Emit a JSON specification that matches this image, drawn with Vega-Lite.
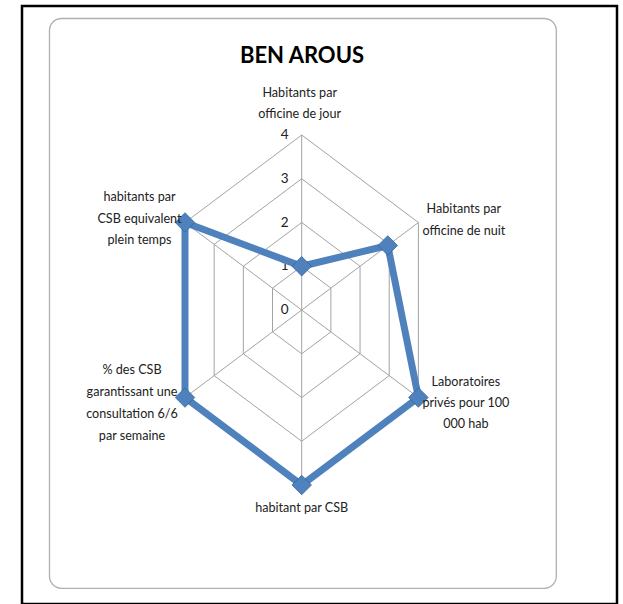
{
  "$schema": "https://vega.github.io/schema/vega-lite/v6.json",
  "width": 595,
  "height": 598,
  "autosize": {"type": "none"},
  "padding": {"left": 22, "top": 6, "right": 6, "bottom": 0},
  "background": "white",
  "title": {"text": "BEN AROUS", "anchor": "middle", "frame": "group", "dx": -17.5, "offset": -79, "baseline": "alphabetic", "font": "Lato", "fontSize": 22, "fontWeight": "bold", "color": "black"},
  "config": {"view": {"stroke": "black", "strokeWidth": 2.5}, "font": "Lato"},
  "datasets": {
    "axes": [
      {"idx": 0, "axis": "Habitants par\nofficine de jour", "value": 1},
      {"idx": 1, "axis": "Habitants par\nofficine de nuit", "value": 2.95},
      {"idx": 2, "axis": "Laboratoires\nprivés pour 100\n000 hab", "value": 4},
      {"idx": 3, "axis": "habitant par CSB", "value": 4},
      {"idx": 4, "axis": "% des CSB\ngarantissant une\nconsultation 6/6\npar semaine", "value": 4},
      {"idx": 5, "axis": "habitants par\nCSB equivalent\nplein temps", "value": 4}
    ],
    "rings": [
      {"level": 1, "idx": [0, 1, 2, 3, 4, 5]},
      {"level": 2, "idx": [0, 1, 2, 3, 4, 5]},
      {"level": 3, "idx": [0, 1, 2, 3, 4, 5]},
      {"level": 4, "idx": [0, 1, 2, 3, 4, 5]}
    ],
    "ticks": [{"level": 0}, {"level": 1}, {"level": 2}, {"level": 3}, {"level": 4}]
  },
  "layer": [
    {
      "data": {"name": "rings"},
      "transform": [
        {"flatten": ["idx"]},
        {"calculate": "datum.level*sin(datum.idx*PI/3)", "as": "x"},
        {"calculate": "datum.level*cos(datum.idx*PI/3)", "as": "y"}
      ],
      "mark": {"type": "line", "interpolate": "linear-closed", "color": "#a3a3a3", "strokeWidth": 1},
      "encoding": {
        "x": {"field": "x", "type": "quantitative", "scale": {"domain": [-8.302, 9.359], "nice": false, "zero": false}, "axis": null},
        "y": {"field": "y", "type": "quantitative", "scale": {"domain": [-6.72, 6.949], "nice": false, "zero": false}, "axis": null},
        "detail": {"field": "level", "type": "nominal"},
        "order": {"field": "idx", "type": "quantitative"}
      }
    },
    {
      "data": {"values": [{"frame": "chart area"}]},
      "mark": {"type": "rect", "filled": false, "stroke": "#b0b0b0", "strokeWidth": 1.3, "cornerRadius": 12},
      "encoding": {
        "x": {"datum": -7.486, "type": "quantitative", "scale": {"domain": [-8.302, 9.359], "nice": false, "zero": false}, "axis": null},
        "x2": {"datum": 7.557},
        "y": {"datum": 6.663, "type": "quantitative", "scale": {"domain": [-6.72, 6.949], "nice": false, "zero": false}, "axis": null},
        "y2": {"datum": -6.361}
      }
    },
    {
      "data": {"name": "axes"},
      "transform": [
        {"calculate": "4*sin(datum.idx*PI/3)", "as": "x"},
        {"calculate": "4*cos(datum.idx*PI/3)", "as": "y"}
      ],
      "mark": {"type": "rule", "color": "#a3a3a3", "strokeWidth": 1},
      "encoding": {
        "x": {"field": "x", "type": "quantitative", "scale": {"domain": [-8.302, 9.359], "nice": false, "zero": false}, "axis": null},
        "y": {"field": "y", "type": "quantitative", "scale": {"domain": [-6.72, 6.949], "nice": false, "zero": false}, "axis": null},
        "x2": {"datum": 0},
        "y2": {"datum": 0}
      }
    },
    {
      "data": {"name": "ticks"},
      "mark": {"type": "text", "align": "center", "baseline": "middle", "dx": -17, "fontSize": 13.5, "color": "#222222"},
      "encoding": {
        "x": {"datum": 0, "type": "quantitative", "scale": {"domain": [-8.302, 9.359], "nice": false, "zero": false}, "axis": null},
        "y": {"field": "level", "type": "quantitative", "scale": {"domain": [-6.72, 6.949], "nice": false, "zero": false}, "axis": null},
        "text": {"field": "level", "type": "quantitative"}
      }
    },
    {
      "data": {"name": "axes"},
      "transform": [
        {"calculate": "datum.value*sin(datum.idx*PI/3)", "as": "x"},
        {"calculate": "datum.value*cos(datum.idx*PI/3)", "as": "y"}
      ],
      "encoding": {
        "x": {"field": "x", "type": "quantitative", "scale": {"domain": [-8.302, 9.359], "nice": false, "zero": false}, "axis": null},
        "y": {"field": "y", "type": "quantitative", "scale": {"domain": [-6.72, 6.949], "nice": false, "zero": false}, "axis": null}
      },
      "layer": [
        {
          "mark": {"type": "line", "interpolate": "linear-closed", "color": "#4F81BD", "strokeWidth": 7},
          "encoding": {"order": {"field": "idx", "type": "quantitative"}}
        },
        {
          "mark": {"type": "point", "shape": "diamond", "size": 380, "filled": true, "color": "#4F81BD", "stroke": "#3465a0", "strokeWidth": 0.8, "opacity": 1},
          "encoding": {}
        }
      ]
    },
    {
      "data": {"name": "axes"},
      "transform": [
        {"calculate": "4*sin(datum.idx*PI/3)", "as": "x"},
        {"calculate": "4*cos(datum.idx*PI/3)", "as": "y"}
      ],
      "encoding": {
        "x": {"field": "x", "type": "quantitative", "scale": {"domain": [-8.302, 9.359], "nice": false, "zero": false}, "axis": null},
        "y": {"field": "y", "type": "quantitative", "scale": {"domain": [-6.72, 6.949], "nice": false, "zero": false}, "axis": null},
        "text": {"field": "axis"}
      },
      "layer": [
        {"transform": [{"filter": "datum.idx == 0"}], "mark": {"type": "text", "align": "center", "baseline": "middle", "lineBreak": "\n", "lineHeight": 21, "fontSize": 12.6, "color": "#222222", "dx": -2, "dy": -42}},
        {"transform": [{"filter": "datum.idx == 1"}], "mark": {"type": "text", "align": "center", "baseline": "middle", "lineBreak": "\n", "lineHeight": 22, "fontSize": 12.6, "color": "#222222", "dx": 45.5, "dy": -13.5}},
        {"transform": [{"filter": "datum.idx == 2"}], "mark": {"type": "text", "align": "center", "baseline": "middle", "lineBreak": "\n", "lineHeight": 21, "fontSize": 12.6, "color": "#222222", "dx": 47.5, "dy": -15.5}},
        {"transform": [{"filter": "datum.idx == 3"}], "mark": {"type": "text", "align": "center", "baseline": "middle", "lineBreak": "\n", "lineHeight": 21, "fontSize": 12.6, "color": "#222222", "dx": 0, "dy": 23}},
        {"transform": [{"filter": "datum.idx == 4"}], "mark": {"type": "text", "align": "center", "baseline": "middle", "lineBreak": "\n", "lineHeight": 22, "fontSize": 12.6, "color": "#222222", "dx": -53, "dy": -27.5}},
        {"transform": [{"filter": "datum.idx == 5"}], "mark": {"type": "text", "align": "center", "baseline": "middle", "lineBreak": "\n", "lineHeight": 21.5, "fontSize": 12.6, "color": "#222222", "dx": -45.5, "dy": -25.5}}
      ]
    }
  ]
}
